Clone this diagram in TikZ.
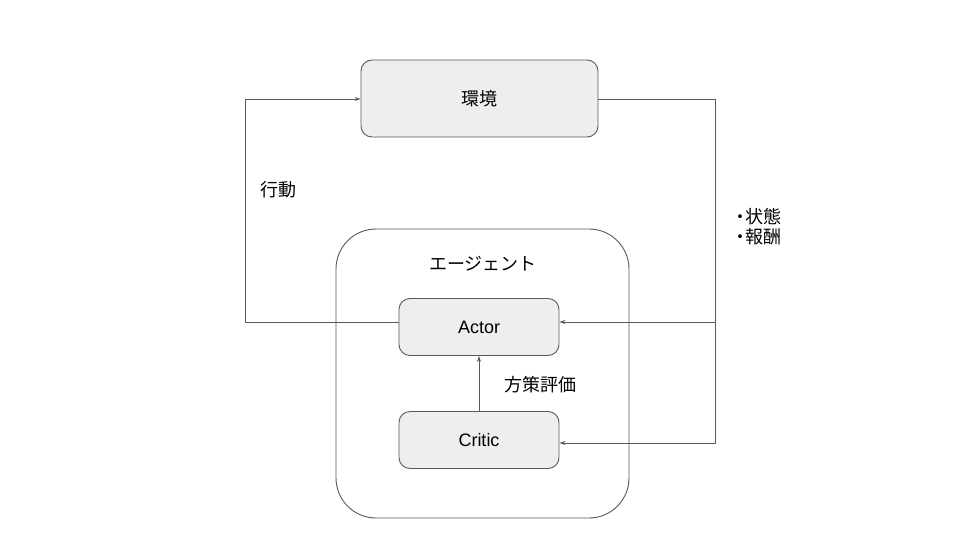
\documentclass[tikz,border=0pt]{standalone}
\usepackage{fontspec}
\setmainfont{Liberation Sans}
\newfontfamily\jp{Noto Sans CJK JP}
\usetikzlibrary{arrows.meta}
\definecolor{boxfill}{HTML}{EEEEEE}
\definecolor{edge}{HTML}{595959}
\newcommand{\mydot}{\makebox[9pt][c]{・}}
\tikzset{
  box/.style={draw=edge, fill=boxfill, line width=0.9pt, rounded corners=11pt, minimum width=160pt, minimum height=57pt, inner sep=0pt, font=\fontsize{18pt}{21pt}\selectfont},
  conn/.style={draw=edge, line width=0.9pt},
  arr/.style={conn, -{Stealth[length=6pt,width=4pt]}},
  lbl/.style={font=\fontsize{18pt}{22pt}\selectfont\jp, inner sep=0pt, align=left},
}
\begin{document}
\begin{tikzpicture}[x=1pt,y=-1pt]
\useasboundingbox (0,0) rectangle (960,540);
% agent container
\node[draw=edge, line width=0.9pt, rounded corners=40pt, minimum width=293pt, minimum height=289pt, inner sep=0pt] (agent) at (482.5,373.5) {};
\node[box, minimum width=237pt, minimum height=77pt] (env) at (479.5,98.5) {\jp 環境};
\node[box] (actor) at (479,327) {Actor};
\node[box] (critic) at (479,440) {Critic};
\node[lbl] (agentlbl) at (483,264) {エージェント};
\node[lbl] (act) at (278,190) {行動};
\node[lbl, anchor=west] (obs) at (736,227) {\mydot 状態\\[-2pt]\mydot 報酬};
\node[lbl] (evl) at (540,385) {方策評価};
\coordinate (L1) at (245,322);
\coordinate (L2) at (245,99);
\coordinate (R1) at (715,99);
\coordinate (R2) at (715,322);
\coordinate (R3) at (715,443);
\draw[arr] (actor.west |- L1) -- (L1) -- (L2) -- (env.west |- L2);
\draw[arr] (env.east |- R1) -- (R1) -- (R3) -- (critic.east |- R3);
\draw[arr] (R2) -- (actor.east |- R2);
\draw[arr] (critic.north) -- (actor.south);
\end{tikzpicture}
\end{document}
